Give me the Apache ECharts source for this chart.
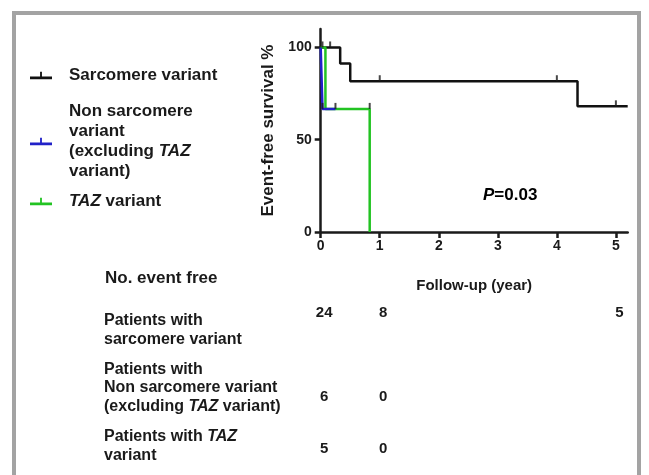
<!DOCTYPE html>
<html>
<head>
<meta charset="utf-8">
<script src="https://cdn.jsdelivr.net/npm/echarts@6/dist/echarts.min.js"></script>
<style>
  html, body { margin: 0; padding: 0; background: #fff; }
  #chart { width: 649px; height: 475px; }
</style>
</head>
<body>
<div id="chart"></div>
<script>
// Kaplan-Meier steps (year, event-free %)
const sarcomereCurve = [[0, 100], [0.33, 91.3], [0.5, 81.7], [4.35, 68.1], [5.2, 68.1]];
const nonSarcomereCurve = [[0, 100], [0.03, 66.7], [0.25, 66.7]];
const tazCurve = [[0, 100], [0.08, 66.7], [0.83, 66.7], [0.83, 0]];

// censored observations
const sarcomereCensor = [[0.03, 100], [0.16, 100], [1.0, 81.7], [4.0, 81.7], [5.0, 68.1]];
const nonSarcomereCensor = [[0.03, 66.7], [0.25, 66.7]];
const tazCensor = [[0.83, 66.7]];

const xTicks = [0, 1, 2, 3, 4, 5];
const yTicks = [0, 50, 100];

// number event free table
const groups = ['sarcomere', 'nonSarcomere', 'taz'];
const riskTimes = [0, 1, 5];
const riskSarcomere = [24, 8, 5];
const riskNonSarcomere = [6, 0];
const riskTaz = [5, 0];

const INK = '#1a1a1a';
const FONT = '"Liberation Sans", Arial, sans-serif';
const tickPath = 'path://M0,0H2V10H0Z';
const legendIcon = 'path://M0,6H24V9H0Z M11,1H13V6H11Z';

const chart = echarts.init(document.getElementById('chart'));

const bold = (size, lh) => ({ fontFamily: FONT, fontWeight: 'bold', fontSize: size, color: INK, lineHeight: lh });
const ital = (size, lh) => ({ fontFamily: FONT, fontWeight: 'bold', fontStyle: 'italic', fontSize: size, color: INK, lineHeight: lh });

const rowLabels = {
  sarcomere: '{b|Patients with}\n{b|sarcomere variant}',
  nonSarcomere: '{b|Patients with}\n{b|Non sarcomere variant}\n{b|(excluding }{i|TAZ}{b| variant)}',
  taz: '{b|Patients with }{i|TAZ}\n{b|variant}'
};

function legendBox(name, top, text) {
  return {
    data: [name],
    left: 30,
    top: top,
    padding: 0,
    icon: legendIcon,
    itemWidth: 22,
    itemHeight: 8,
    itemStyle: { borderWidth: 0 },
    selectedMode: false,
    formatter: () => text,
    textStyle: {
      padding: [0, 0, 0, 12],
      rich: { b: bold(17, 20), i: ital(17, 20) }
    }
  };
}

function censorSeries(data) {
  return {
    type: 'scatter',
    xAxisIndex: 0,
    yAxisIndex: 0,
    data: data,
    symbol: tickPath,
    symbolSize: [2, 6],
    symbolOffset: [0, -3],
    itemStyle: { color: INK },
    silent: true,
    z: 5
  };
}

function riskSeries(group, counts, offsetY) {
  return {
    type: 'scatter',
    xAxisIndex: 1,
    yAxisIndex: 1,
    data: counts.map((c, i) => [riskTimes[i], group, c]),
    symbolSize: 1,
    itemStyle: { color: '#ffffff', opacity: 1 },
    silent: true,
    label: {
      show: true,
      position: 'right',
      distance: 0,
      align: 'center',
      offset: [3, offsetY],
      formatter: p => String(p.value[2]),
      fontFamily: FONT,
      fontWeight: 'bold',
      fontSize: 15,
      color: INK,
      opacity: 1,
      textBorderWidth: 0
    }
  };
}

const option = {
  animation: false,
  backgroundColor: '#fff',
  graphic: [
    {
      type: 'rect',
      shape: { x: 14, y: 13, width: 625, height: 520 },
      style: { fill: 'none', stroke: '#a3a3a3', lineWidth: 4 },
      z: 0
    },
    {
      type: 'text',
      left: 483,
      top: 187,
      style: {
        text: '{i|P}{b|=0.03}',
        rich: { b: bold(17, 20), i: ital(17, 20) }
      }
    },
    {
      type: 'text',
      left: 105,
      top: 270,
      style: { text: 'No. event free', font: 'bold 17px ' + FONT, fill: INK }
    }
  ],
  legend: [
    legendBox('Sarcomere variant', 67, '{b|Sarcomere variant}'),
    legendBox('Non sarcomere variant', 103, '{b|Non sarcomere}\n{b|variant}\n{b|(excluding }{i|TAZ}\n{b|variant)}'),
    legendBox('TAZ variant', 193, '{i|TAZ}{b| variant}')
  ],
  grid: [
    { left: 320.7, right: 21.3, top: 29, bottom: 243 },
    { left: 320.7, right: 21.3, top: 301, height: 174 }
  ],
  xAxis: [
    {
      gridIndex: 0,
      type: 'value',
      min: 0,
      max: 5.2,
      name: 'Follow-up (year)',
      nameLocation: 'middle',
      nameGap: 46,
      nameTextStyle: { fontFamily: FONT, fontWeight: 'bold', fontSize: 15, color: INK },
      splitLine: { show: false },
      axisLine: { lineStyle: { color: INK, width: 2.5 } },
      axisTick: { customValues: xTicks, length: 6, lineStyle: { color: INK, width: 2.5 } },
      axisLabel: { customValues: xTicks, margin: 7, fontFamily: FONT, fontWeight: 'bold', fontSize: 14, color: INK }
    },
    {
      gridIndex: 1,
      type: 'value',
      min: 0,
      max: 5.2,
      show: false
    }
  ],
  yAxis: [
    {
      gridIndex: 0,
      type: 'value',
      min: 0,
      max: 110,
      name: 'Event-free survival %',
      nameLocation: 'middle',
      nameRotate: 90,
      nameGap: 44,
      nameTextStyle: { fontFamily: FONT, fontWeight: 'bold', fontSize: 17, color: INK },
      splitLine: { show: false },
      axisLine: { show: true, lineStyle: { color: INK, width: 2.5 } },
      axisTick: { show: true, customValues: yTicks, length: 6, lineStyle: { color: INK, width: 2.5 } },
      axisLabel: { customValues: yTicks, margin: 9, fontFamily: FONT, fontWeight: 'bold', fontSize: 14, color: INK }
    },
    {
      gridIndex: 1,
      type: 'category',
      data: groups,
      inverse: true,
      axisLine: { show: false },
      axisTick: { show: false },
      splitLine: { show: false },
      axisLabel: {
        align: 'left',
        margin: 216.7,
        formatter: v => rowLabels[v],
        rich: { b: bold(16, 18.5), i: ital(16, 18.5) }
      }
    }
  ],
  series: [
    {
      name: 'Sarcomere variant',
      type: 'line',
      step: 'end',
      data: sarcomereCurve,
      showSymbol: false,
      symbol: 'none',
      color: '#111111',
      lineStyle: { width: 2.5, color: '#111111' },
      z: 3
    },
    {
      name: 'TAZ variant',
      type: 'line',
      step: 'end',
      data: tazCurve,
      showSymbol: false,
      symbol: 'none',
      color: '#22c322',
      lineStyle: { width: 2.5, color: '#22c322' },
      z: 3
    },
    {
      name: 'Non sarcomere variant',
      type: 'line',
      step: 'end',
      data: nonSarcomereCurve,
      showSymbol: false,
      symbol: 'none',
      color: '#2121c8',
      lineStyle: { width: 2.5, color: '#2121c8' },
      z: 4
    },
    censorSeries(sarcomereCensor),
    censorSeries(nonSarcomereCensor),
    censorSeries(tazCensor),
    riskSeries('sarcomere', riskSarcomere, -17),
    riskSeries('nonSarcomere', riskNonSarcomere, 9),
    riskSeries('taz', riskTaz, 3)
  ]
};

chart.setOption(option);
</script>
</body>
</html>
